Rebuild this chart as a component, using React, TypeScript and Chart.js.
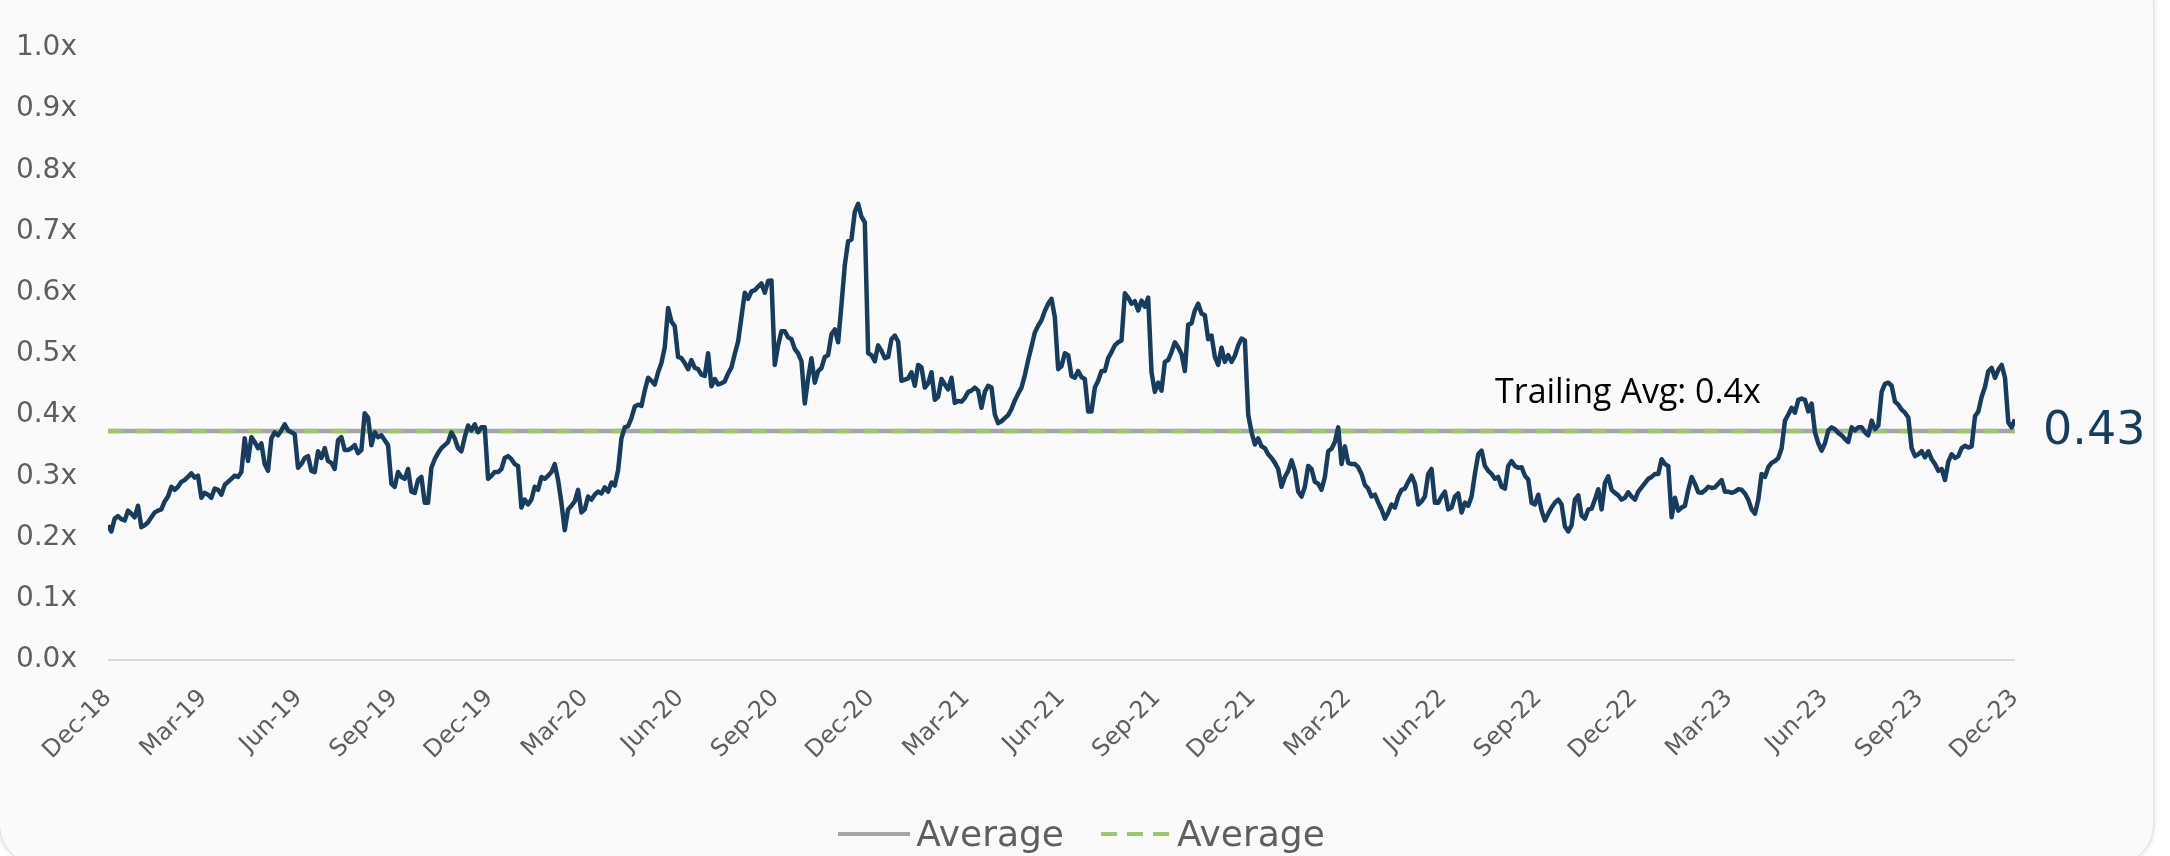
import React, { useEffect, useRef } from 'react';
import { Chart, registerables } from 'chart.js';

Chart.register(...registerables);

// Quarter tick labels (every 3 months, Dec-18 .. Dec-23)
const quarterLabels = [
  'Dec-18', 'Mar-19', 'Jun-19', 'Sep-19', 'Dec-19', 'Mar-20', 'Jun-20', 'Sep-20', 'Dec-20',
  'Mar-21', 'Jun-21', 'Sep-21', 'Dec-21', 'Mar-22', 'Jun-22', 'Sep-22', 'Dec-22', 'Mar-23',
  'Jun-23', 'Sep-23', 'Dec-23',
];

const multiplesDec18toMar20 = [
  0.220, 0.210, 0.231, 0.235, 0.230, 0.228, 0.244, 0.239, 0.233, 0.252,
  0.217, 0.220, 0.225, 0.233, 0.241, 0.244, 0.246, 0.259, 0.267, 0.283,
  0.278, 0.283, 0.291, 0.294, 0.299, 0.305, 0.298, 0.301, 0.265, 0.273,
  0.270, 0.265, 0.280, 0.278, 0.270, 0.286, 0.291, 0.296, 0.301, 0.299,
  0.307, 0.362, 0.325, 0.364, 0.356, 0.346, 0.354, 0.320, 0.309, 0.362,
  0.372, 0.367, 0.375, 0.385, 0.375, 0.372, 0.369, 0.314, 0.320, 0.330,
  0.333, 0.309, 0.307, 0.341, 0.330, 0.346, 0.325, 0.322, 0.312, 0.359,
  0.364, 0.343, 0.343, 0.346, 0.351, 0.338, 0.343, 0.403, 0.396, 0.351,
  0.372, 0.364, 0.367, 0.359, 0.351, 0.288, 0.283, 0.307, 0.299, 0.296,
  0.312, 0.275, 0.273, 0.294, 0.299, 0.257, 0.257, 0.314, 0.328, 0.338,
  0.346, 0.351, 0.356, 0.372, 0.362, 0.346, 0.341, 0.364, 0.383, 0.375,
  0.385, 0.372, 0.380, 0.380, 0.296, 0.301, 0.307, 0.307, 0.312, 0.330,
  0.333, 0.328, 0.320, 0.317, 0.249, 0.262, 0.254, 0.262, 0.283, 0.278,
  0.299, 0.296, 0.301, 0.307, 0.320, 0.294, 0.257, 0.212, 0.246, 0.252,
  0.259, 0.278, 0.241, 0.246, 0.267,
];

const multiplesMar20toJun21 = [
  0.262, 0.270, 0.275, 0.272, 0.282, 0.275, 0.290, 0.285, 0.310,
  0.362, 0.380, 0.382, 0.395, 0.414, 0.417, 0.415, 0.440, 0.461, 0.456,
  0.450, 0.470, 0.485, 0.511, 0.575, 0.553, 0.545, 0.495, 0.493, 0.485,
  0.475, 0.490, 0.477, 0.475, 0.466, 0.464, 0.501, 0.447, 0.459, 0.450,
  0.452, 0.455, 0.468, 0.478, 0.500, 0.520, 0.560, 0.600, 0.590, 0.602,
  0.604, 0.610, 0.615, 0.600, 0.619, 0.620, 0.482, 0.514, 0.537, 0.537,
  0.527, 0.524, 0.508, 0.501, 0.488, 0.419, 0.460, 0.493, 0.453, 0.472,
  0.477, 0.495, 0.498, 0.532, 0.540, 0.519, 0.580, 0.645, 0.684, 0.687,
  0.732, 0.745, 0.724, 0.715, 0.501, 0.498, 0.488, 0.514, 0.505, 0.493,
  0.495, 0.524, 0.530, 0.520, 0.456, 0.458, 0.460, 0.470, 0.448, 0.482,
  0.478, 0.445, 0.452, 0.470, 0.425, 0.430, 0.459, 0.450, 0.442, 0.461,
  0.420, 0.423, 0.422, 0.428, 0.438, 0.440, 0.445, 0.440, 0.412, 0.438,
  0.448, 0.445, 0.401, 0.387, 0.390, 0.395, 0.400, 0.410, 0.424, 0.435,
  0.445, 0.465, 0.490, 0.512, 0.535, 0.546, 0.555, 0.570, 0.582, 0.590,
  0.560, 0.475, 0.480, 0.501, 0.498,
];

const multiplesJun21toSep22 = [
  0.464, 0.461, 0.472, 0.462, 0.459, 0.406, 0.406, 0.445, 0.456, 0.472,
  0.472, 0.493, 0.503, 0.514, 0.519, 0.522, 0.599, 0.592, 0.582, 0.586,
  0.571, 0.587, 0.577, 0.592, 0.470, 0.438, 0.453, 0.440, 0.487, 0.490,
  0.503, 0.519, 0.511, 0.500, 0.472, 0.548, 0.550, 0.571, 0.582, 0.566,
  0.563, 0.524, 0.530, 0.495, 0.482, 0.510, 0.487, 0.498, 0.487, 0.497,
  0.514, 0.525, 0.522, 0.401, 0.372, 0.352, 0.362, 0.349, 0.346, 0.336,
  0.330, 0.322, 0.312, 0.283, 0.299, 0.309, 0.326, 0.309, 0.275, 0.267,
  0.283, 0.317, 0.312, 0.291, 0.288, 0.278, 0.299, 0.341, 0.345, 0.356,
  0.380, 0.320, 0.349, 0.322, 0.320, 0.320, 0.315, 0.304, 0.286, 0.280,
  0.267, 0.270, 0.257, 0.246, 0.231, 0.241, 0.254, 0.249, 0.267, 0.278,
  0.280, 0.291, 0.301, 0.288, 0.254, 0.259, 0.267, 0.304, 0.312, 0.257,
  0.257, 0.267, 0.275, 0.246, 0.249, 0.267, 0.272, 0.241, 0.257, 0.252,
  0.267, 0.304, 0.336, 0.342, 0.317, 0.309, 0.304, 0.296, 0.299, 0.283,
  0.280, 0.317, 0.325, 0.317, 0.314, 0.315, 0.301, 0.295, 0.257, 0.254,
  0.270, 0.244, 0.228, 0.239,
];

const multiplesSep22toDec23 = [
  0.249, 0.257, 0.262, 0.254, 0.218, 0.210, 0.220, 0.262, 0.269, 0.236,
  0.231, 0.246, 0.247, 0.262, 0.279, 0.246, 0.289, 0.300, 0.278, 0.273,
  0.269, 0.262, 0.265, 0.274, 0.267, 0.262, 0.275, 0.282, 0.289, 0.296,
  0.299, 0.304, 0.304, 0.328, 0.320, 0.317, 0.233, 0.265, 0.244, 0.249,
  0.252, 0.278, 0.299, 0.288, 0.274, 0.273, 0.277, 0.283, 0.281, 0.282,
  0.288, 0.294, 0.275, 0.275, 0.273, 0.275, 0.279, 0.278, 0.272, 0.262,
  0.246, 0.239, 0.262, 0.304, 0.299, 0.315, 0.322, 0.325, 0.330, 0.346,
  0.391, 0.401, 0.412, 0.404, 0.425, 0.427, 0.425, 0.406, 0.419, 0.372,
  0.354, 0.342, 0.354, 0.375, 0.380, 0.377, 0.371, 0.367, 0.361, 0.356,
  0.380, 0.375, 0.380, 0.380, 0.372, 0.367, 0.391, 0.377, 0.383, 0.438,
  0.451, 0.453, 0.448, 0.422, 0.417, 0.409, 0.404, 0.396, 0.346, 0.333,
  0.336, 0.341, 0.331, 0.341, 0.328, 0.320, 0.309, 0.312, 0.294, 0.324,
  0.336, 0.330, 0.333, 0.346, 0.350, 0.347, 0.349, 0.398, 0.406, 0.430,
  0.446, 0.472, 0.477, 0.461, 0.474, 0.482, 0.461, 0.388, 0.380, 0.393,
];

const trailingAverage = 0.374;
const trailingAvgText = 'Trailing Avg: 0.4x';
const trailingAvgTextEndMonth = 52;
const latestValueText = '0.43';
const legendLabels = ['Average', 'Average'];

const AXIS_FONT = '"DejaVu Sans", "Noto Sans", sans-serif';
const NAVY = '#173c5e';
const AVG_GRAY = '#a6a6a6';
const AVG_GREEN = '#9cc76a';
const LABEL_GRAY = '#5f5f5f';

export default function App() {
  const canvasRef = useRef<HTMLCanvasElement | null>(null);

  useEffect(() => {
    const canvas = canvasRef.current;
    if (!canvas) return;
    const values = [
      ...multiplesDec18toMar20,
      ...multiplesMar20toJun21,
      ...multiplesJun21toSep22,
      ...multiplesSep22toDec23,
    ];
    const spanMonths = (quarterLabels.length - 1) * 3;
    const n = values.length;
    const seriesPoints = values.map((v, i) => ({ x: (i * spanMonths) / (n - 1), y: v }));
    const avgPoints = [
      { x: 0, y: trailingAverage },
      { x: spanMonths, y: trailingAverage },
    ];

    const annotationPlugin = {
      id: 'annotationText',
      afterDatasetsDraw(chart: any) {
        const { ctx, scales, chartArea } = chart;
        const yAvg = scales.y.getPixelForValue(trailingAverage);
        ctx.save();
        ctx.font = '34px "Open Sans", "Liberation Sans", sans-serif';
        ctx.fillStyle = '#000000';
        ctx.textAlign = 'right';
        ctx.textBaseline = 'alphabetic';
        ctx.fillText(trailingAvgText, scales.x.getPixelForValue(trailingAvgTextEndMonth), yAvg - 28);
        ctx.font = '46px ' + AXIS_FONT;
        ctx.fillStyle = NAVY;
        ctx.textAlign = 'left';
        ctx.textBaseline = 'middle';
        ctx.fillText(latestValueText, chartArea.right + 28, yAvg + 1);
        ctx.restore();
      },
    };

    const chart = new Chart(canvas, {
      type: 'line',
      data: {
        datasets: [
          {
            label: 'Multiple',
            data: seriesPoints,
            borderColor: NAVY,
            backgroundColor: NAVY,
            borderWidth: 4.5,
            pointRadius: 0,
            borderJoinStyle: 'round',
            tension: 0,
            order: 0,
          },
          {
            label: legendLabels[0],
            data: avgPoints,
            borderColor: AVG_GRAY,
            backgroundColor: AVG_GRAY,
            borderWidth: 4.5,
            pointRadius: 0,
            order: 2,
          },
          {
            label: legendLabels[1],
            data: avgPoints,
            borderColor: AVG_GREEN,
            backgroundColor: AVG_GREEN,
            borderWidth: 4.5,
            borderDash: [14, 14],
            pointRadius: 0,
            order: 1,
          },
        ],
      },
      options: {
        animation: false,
        responsive: false,
        events: [],
        layout: { padding: { top: 24, right: 155, bottom: 0, left: 0 } },
        plugins: {
          legend: { display: false },
          tooltip: { enabled: false },
        },
        scales: {
          x: {
            type: 'linear',
            min: 0,
            max: spanMonths,
            grid: { display: false },
            border: { display: false },
            ticks: {
              stepSize: 3,
              autoSkip: false,
              minRotation: 45,
              maxRotation: 45,
              padding: 16,
              color: LABEL_GRAY,
              font: { family: AXIS_FONT, size: 24 },
              callback: (v: any) => quarterLabels[Math.round(Number(v) / 3)] ?? '',
            },
            afterFit: (s: any) => {
              s.height = 196;
            },
          },
          y: {
            min: 0,
            max: 1,
            border: { display: false },
            grid: {
              drawTicks: false,
              lineWidth: 2,
              color: (c: any) => (c.tick && c.tick.value === 0 ? '#d9d9d9' : 'rgba(0,0,0,0)'),
            },
            ticks: {
              stepSize: 0.1,
              padding: 31,
              color: LABEL_GRAY,
              font: { family: AXIS_FONT, size: 28 },
              callback: (v: any) => Number(v).toFixed(1) + 'x',
            },
            afterFit: (s: any) => {
              s.width = 108;
            },
          },
        },
      },
      plugins: [annotationPlugin],
    } as any);

    return () => chart.destroy();
  }, []);

  return (
    <div
      style={{
        position: 'fixed',
        left: 0,
        top: 0,
        width: 2170,
        height: 856,
        overflow: 'hidden',
        background: '#ffffff',
      }}
    >
      <div
        style={{
          position: 'absolute',
          left: -1,
          top: -40,
          width: 2155,
          height: 905,
          borderRadius: 40,
          background: '#fafafa',
          border: '1px solid #e0e0e0',
          boxShadow: '0 0 5px rgba(0,0,0,0.15)',
          boxSizing: 'border-box',
        }}
      />
      <canvas
        ref={canvasRef}
        width={2170}
        height={856}
        style={{ position: 'absolute', left: 0, top: 0, width: 2170, height: 856 }}
      />
      <div
        style={{
          position: 'absolute',
          left: 0,
          top: 814,
          width: 2163,
          height: 40,
          display: 'flex',
          justifyContent: 'center',
          alignItems: 'center',
          fontFamily: AXIS_FONT,
          fontSize: 36,
          lineHeight: '40px',
          color: LABEL_GRAY,
        }}
      >
        <svg width={72} height={8} style={{ display: 'block' }}>
          <line x1={0} y1={4} x2={72} y2={4} stroke={AVG_GRAY} strokeWidth={4} />
        </svg>
        <span style={{ marginLeft: 6 }}>{legendLabels[0]}</span>
        <svg width={72} height={8} style={{ display: 'block', marginLeft: 37 }}>
          <line x1={0} y1={4} x2={72} y2={4} stroke={AVG_GREEN} strokeWidth={4} strokeDasharray="16 10" />
        </svg>
        <span style={{ marginLeft: 4 }}>{legendLabels[1]}</span>
      </div>
    </div>
  );
}
